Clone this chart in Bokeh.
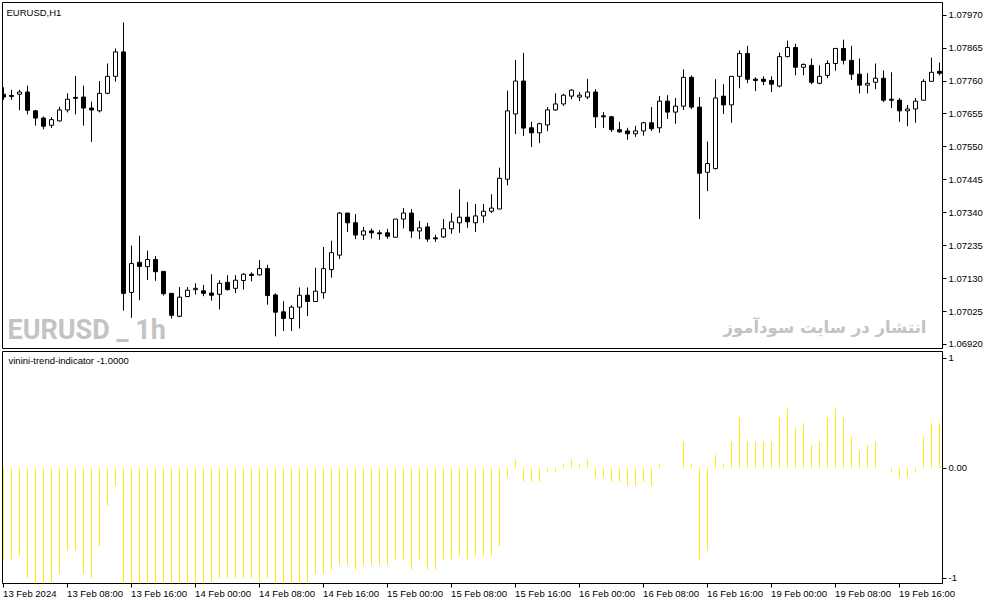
from bokeh.plotting import figure
from bokeh.models import (Range1d, FixedTicker, PrintfTickFormatter, ColumnDataSource, Label)
from bokeh.layouts import column
from bokeh.embed import file_html
from bokeh.resources import INLINE

# ---------------- data ----------------
symbol_title = "EURUSD,H1"
indicator_title = "vinini-trend-indicator -1.0000"
watermark_left = "EURUSD _ 1h"
watermark_right = "انتشار در سایت سودآموز"

open_ = [1.07718, 1.07714, 1.07718, 1.07725, 1.07665, 1.07642, 1.07619, 1.07633, 1.07668, 1.07708,
         1.07709, 1.07674, 1.07665, 1.07721, 1.07775, 1.07853, 1.07086, 1.07182, 1.07168, 1.07191,
         1.07153, 1.07083, 1.07010, 1.07073, 1.07095, 1.07091, 1.07084, 1.07080, 1.07118, 1.07099,
         1.07124, 1.07144, 1.07142, 1.07162, 1.07078, 1.07024, 1.07003, 1.07039, 1.07077, 1.07057,
         1.07085, 1.07159, 1.07205, 1.07339, 1.07308, 1.07269, 1.07282, 1.07276, 1.07276, 1.07262,
         1.07320, 1.07339, 1.07282, 1.07295, 1.07260, 1.07263, 1.07289, 1.07308, 1.07326, 1.07308,
         1.07330, 1.07345, 1.07352, 1.07447, 1.07655, 1.07760, 1.07611, 1.07595, 1.07620, 1.07668,
         1.07687, 1.07712, 1.07709, 1.07709, 1.07725, 1.07649, 1.07646, 1.07605, 1.07601, 1.07592,
         1.07601, 1.07627, 1.07611, 1.07696, 1.07661, 1.07680, 1.07772, 1.07677, 1.07469, 1.07481,
         1.07712, 1.07684, 1.07775, 1.07848, 1.07766, 1.07766, 1.07762, 1.07744, 1.07838, 1.07867,
         1.07804, 1.07810, 1.07753, 1.07778, 1.07816, 1.07864, 1.07826, 1.07782, 1.07747, 1.07756,
         1.07769, 1.07702, 1.07699, 1.07665, 1.07671, 1.07699, 1.07759, 1.07791]
high = [1.07740, 1.07732, 1.07732, 1.07745, 1.07667, 1.07647, 1.07645, 1.07678, 1.07721, 1.07776,
        1.07745, 1.07694, 1.07760, 1.07816, 1.07864, 1.07947, 1.07235, 1.07267, 1.07219, 1.07202,
        1.07153, 1.07083, 1.07103, 1.07103, 1.07115, 1.07110, 1.07144, 1.07125, 1.07141, 1.07141,
        1.07147, 1.07150, 1.07189, 1.07174, 1.07083, 1.07058, 1.07045, 1.07102, 1.07102, 1.07165,
        1.07231, 1.07251, 1.07342, 1.07339, 1.07336, 1.07295, 1.07290, 1.07285, 1.07289, 1.07320,
        1.07355, 1.07352, 1.07314, 1.07308, 1.07270, 1.07320, 1.07339, 1.07415, 1.07374, 1.07368,
        1.07368, 1.07399, 1.07484, 1.07729, 1.07827, 1.07850, 1.07630, 1.07627, 1.07677, 1.07721,
        1.07719, 1.07734, 1.07725, 1.07767, 1.07734, 1.07661, 1.07649, 1.07630, 1.07611, 1.07617,
        1.07630, 1.07677, 1.07712, 1.07715, 1.07706, 1.07797, 1.07778, 1.07709, 1.07567, 1.07766,
        1.07750, 1.07775, 1.07858, 1.07872, 1.07772, 1.07775, 1.07775, 1.07851, 1.07889, 1.07879,
        1.07816, 1.07832, 1.07810, 1.07826, 1.07864, 1.07892, 1.07872, 1.07832, 1.07785, 1.07816,
        1.07794, 1.07788, 1.07706, 1.07684, 1.07706, 1.07766, 1.07835, 1.07819]
low = [1.07700, 1.07700, 1.07667, 1.07654, 1.07618, 1.07606, 1.07610, 1.07631, 1.07660, 1.07654,
       1.07618, 1.07566, 1.07660, 1.07718, 1.07758, 1.07028, 1.07005, 1.07061, 1.07126, 1.07123,
       1.07076, 1.07003, 1.07007, 1.07071, 1.07079, 1.07074, 1.07060, 1.07032, 1.07092, 1.07084,
       1.07095, 1.07121, 1.07140, 1.07047, 1.06946, 1.06963, 1.06963, 1.06971, 1.07011, 1.07057,
       1.07066, 1.07133, 1.07193, 1.07279, 1.07256, 1.07253, 1.07258, 1.07254, 1.07257, 1.07262,
       1.07290, 1.07260, 1.07256, 1.07247, 1.07247, 1.07260, 1.07273, 1.07276, 1.07292, 1.07279,
       1.07308, 1.07339, 1.07352, 1.07427, 1.07591, 1.07585, 1.07550, 1.07562, 1.07600, 1.07665,
       1.07680, 1.07702, 1.07696, 1.07702, 1.07610, 1.07610, 1.07598, 1.07595, 1.07573, 1.07582,
       1.07586, 1.07601, 1.07595, 1.07639, 1.07624, 1.07668, 1.07671, 1.07320, 1.07409, 1.07478,
       1.07655, 1.07627, 1.07737, 1.07753, 1.07728, 1.07747, 1.07725, 1.07740, 1.07835, 1.07778,
       1.07778, 1.07750, 1.07750, 1.07769, 1.07793, 1.07813, 1.07763, 1.07721, 1.07721, 1.07734,
       1.07693, 1.07674, 1.07630, 1.07616, 1.07627, 1.07699, 1.07759, 1.07778]
close = [1.07709, 1.07711, 1.07725, 1.07667, 1.07642, 1.07616, 1.07637, 1.07668, 1.07702, 1.07705,
         1.07674, 1.07668, 1.07721, 1.07775, 1.07853, 1.07083, 1.07178, 1.07169, 1.07191, 1.07152,
         1.07082, 1.07013, 1.07071, 1.07093, 1.07099, 1.07083, 1.07077, 1.07115, 1.07095, 1.07125,
         1.07144, 1.07140, 1.07162, 1.07076, 1.07023, 1.07003, 1.07039, 1.07077, 1.07057, 1.07090,
         1.07162, 1.07213, 1.07339, 1.07308, 1.07269, 1.07282, 1.07276, 1.07273, 1.07265, 1.07320,
         1.07339, 1.07282, 1.07292, 1.07256, 1.07257, 1.07289, 1.07311, 1.07326, 1.07311, 1.07330,
         1.07345, 1.07355, 1.07450, 1.07665, 1.07760, 1.07610, 1.07595, 1.07624, 1.07668, 1.07687,
         1.07715, 1.07731, 1.07715, 1.07725, 1.07646, 1.07646, 1.07605, 1.07598, 1.07592, 1.07601,
         1.07627, 1.07608, 1.07696, 1.07661, 1.07680, 1.07772, 1.07677, 1.07466, 1.07497, 1.07706,
         1.07684, 1.07775, 1.07848, 1.07766, 1.07762, 1.07759, 1.07750, 1.07838, 1.07867, 1.07804,
         1.07813, 1.07756, 1.07775, 1.07816, 1.07864, 1.07826, 1.07782, 1.07747, 1.07753, 1.07769,
         1.07699, 1.07699, 1.07665, 1.07671, 1.07696, 1.07759, 1.07788, 1.07785]
trend = [-0.83, -0.83, -0.80, -1.00, -1.05, -1.05, -1.05, -0.96, -0.75, -0.75,
         -0.96, -1.00, -0.71, -0.34, -0.16, -1.05, -1.05, -1.05, -1.05, -1.05,
         -1.05, -1.05, -1.05, -1.05, -1.05, -1.05, -1.05, -1.00, -1.00, -1.00,
         -1.00, -1.00, -1.05, -1.00, -1.05, -1.05, -1.05, -1.05, -1.05, -0.96,
         -0.96, -0.92, -0.88, -0.88, -0.92, -0.88, -0.88, -0.88, -0.88, -0.83,
         -0.83, -0.92, -0.83, -0.92, -0.92, -0.83, -0.83, -0.80, -0.83, -0.80,
         -0.80, -0.80, -0.71, -0.08, 0.08, -0.12, -0.12, -0.12, -0.04, -0.04,
         0.04, 0.08, 0.04, 0.08, -0.08, -0.08, -0.12, -0.12, -0.16, -0.16,
         -0.12, -0.16, 0.04, 0.00, 0.00, 0.24, 0.04, -0.83, -0.75, 0.12,
         0.04, 0.24, 0.46, 0.24, 0.24, 0.24, 0.24, 0.46, 0.54, 0.37,
         0.41, 0.21, 0.24, 0.46, 0.54, 0.46, 0.29, 0.16, 0.21, 0.24,
         0.00, -0.04, -0.08, -0.08, -0.04, 0.29, 0.41, 0.41]

price_ticks = [1.06920, 1.07025, 1.07130, 1.07235, 1.07340, 1.07445,
               1.07550, 1.07655, 1.07760, 1.07865, 1.07970]
time_tick_bars = [0, 8, 16, 24, 32, 40, 48, 56, 64, 72, 80, 88, 96, 104, 112]
time_tick_labels = ["13 Feb 2024", "13 Feb 08:00", "13 Feb 16:00", "14 Feb 00:00",
                    "14 Feb 08:00", "14 Feb 16:00", "15 Feb 00:00", "15 Feb 08:00",
                    "15 Feb 16:00", "16 Feb 00:00", "16 Feb 08:00", "16 Feb 16:00",
                    "19 Feb 00:00", "19 Feb 08:00", "19 Feb 16:00"]
indicator_ticks = [-1, 0, 1]
indicator_tick_labels = ["-1", "0.00", "1"]

# ---------------- layout constants ----------------
WIDTH = 987
H_MAIN = 350
H_IND = 255
FRAME_L, FRAME_R = 2, 942
BAR_PX = 8
X0 = -0.125
X1 = X0 + (FRAME_R - FRAME_L) / BAR_PX
PY0, PY1 = 1.069072, 1.080105
IY0, IY1 = -1.048, 1.061
AX_FONT = "Liberation Sans"
AX_PX = 9.5
AX_SIZE = f"{AX_PX}px"
YELLOW = "#FFF000"
GREY = "#C3C3C3"

n = len(open_)
xs = list(range(n))


def style(p):
    p.xgrid.visible = False
    p.ygrid.visible = False
    p.outline_line_color = "black"
    p.outline_line_width = 1
    p.outline_line_alpha = 1
    p.background_fill_color = "white"
    p.border_fill_color = "white"
    for ax in p.yaxis:
        ax.axis_line_color = "black"
        ax.major_tick_line_color = "black"
        ax.major_tick_out = 4
        ax.major_tick_in = 0
        ax.minor_tick_line_color = None
        ax.major_label_standoff = 2
        ax.major_label_text_font = AX_FONT
        ax.major_label_text_font_size = AX_SIZE
        ax.major_label_text_color = "black"


# ---------------- main price panel ----------------
p1 = figure(width=WIDTH, height=H_MAIN, x_range=Range1d(X0, X1), y_range=Range1d(PY0, PY1),
            output_backend="svg", toolbar_location=None, x_axis_location=None,
            y_axis_location="right", min_border_left=FRAME_L, min_border_right=WIDTH - FRAME_R,
            min_border_top=2, min_border_bottom=2)
style(p1)
p1.yaxis.ticker = FixedTicker(ticks=price_ticks)
p1.yaxis.formatter = PrintfTickFormatter(format="%.5f")

src = ColumnDataSource(dict(
    x=xs, h=high, l=low,
    top=[max(o, c) for o, c in zip(open_, close)],
    bottom=[min(o, c) for o, c in zip(open_, close)],
    fill=["white" if c > o else "black" for o, c in zip(open_, close)],
))
p1.segment(x0="x", y0="h", x1="x", y1="l", source=src, line_color="black", line_width=1)
p1.vbar(x="x", top="top", bottom="bottom", width=0.5, source=src,
        fill_color="fill", line_color="black", line_width=1)


def xdata(px):
    return X0 + (px - FRAME_L) / BAR_PX


def ymain(py):
    return PY1 - (py - 2) / 346 * (PY1 - PY0)


def yind(py):
    return IY1 - (py - 351) / 232 * (IY1 - IY0)


p1.add_layout(Label(x=xdata(6), y=ymain(12), text=symbol_title, text_font=AX_FONT,
                    text_font_size=AX_SIZE, text_baseline="middle", text_color="black"))
p1.add_layout(Label(x=xdata(7), y=ymain(329), text=watermark_left,
                    text_font="Roboto", text_font_style="bold", text_font_size="27px",
                    text_baseline="middle", text_color=GREY))
p1.add_layout(Label(x=xdata(926), y=ymain(327), text=watermark_right,
                    text_font="DejaVu Sans", text_font_style="bold", text_font_size="16.5px",
                    text_align="right", text_baseline="middle", text_color=GREY))

# ---------------- indicator panel ----------------
p2 = figure(width=WIDTH, height=H_IND, x_range=p1.x_range, y_range=Range1d(IY0, IY1),
            output_backend="svg", toolbar_location=None, y_axis_location="right",
            min_border_left=FRAME_L, min_border_right=WIDTH - FRAME_R,
            min_border_top=1, min_border_bottom=22)
style(p2)
p2.yaxis.ticker = FixedTicker(ticks=indicator_ticks)
p2.yaxis.major_label_overrides = {t: s for t, s in zip(indicator_ticks, indicator_tick_labels)}

# time axis: tick marks on the bars (minor ticks), labels left-aligned at each tick
CHAR_EM = {" ": 0.278, "F": 0.611, "e": 0.556, "b": 0.556, ":": 0.278}


def text_w(s):
    return sum(CHAR_EM.get(ch, 0.556) for ch in s) * AX_PX


label_pos = [t + (text_w(s) / 2 - 0.4) / BAR_PX for t, s in zip(time_tick_bars, time_tick_labels)]
xa = p2.xaxis[0]
xa.ticker = FixedTicker(ticks=label_pos, minor_ticks=time_tick_bars)
xa.major_label_overrides = {pos: s for pos, s in zip(label_pos, time_tick_labels)}
xa.axis_line_color = None
xa.major_tick_line_color = None
xa.major_tick_out = 0
xa.major_tick_in = 0
xa.minor_tick_line_color = "black"
xa.minor_tick_out = 4
xa.minor_tick_in = 0
xa.major_label_standoff = 0
xa.major_label_text_font = AX_FONT
xa.major_label_text_font_size = AX_SIZE
xa.major_label_text_color = "black"

p2.segment(x0=xs, y0=[0] * n, x1=xs, y1=trend, line_color=YELLOW, line_width=1)

p2.add_layout(Label(x=xdata(8), y=yind(360), text=indicator_title, text_font=AX_FONT,
                    text_font_size=AX_SIZE, text_baseline="middle", text_color="black"))

layout = column(p1, p2, spacing=0)
open("out.html", "w").write(file_html(layout, INLINE))
